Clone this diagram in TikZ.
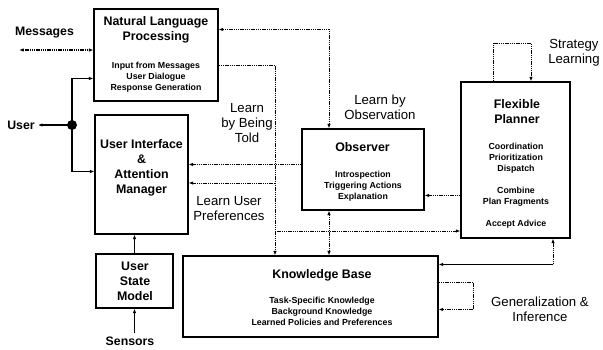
\documentclass[tikz,border=0pt]{standalone}
\usepackage{fontspec}
\setmainfont{Liberation Sans}
\usetikzlibrary{arrows.meta,calc}

\begin{document}
\begin{tikzpicture}[x=1pt,y=-1pt,
  box/.style={draw,line width=1.1pt,inner sep=0pt},
  title/.style={font=\fontsize{12.4}{15}\selectfont\bfseries,align=center,inner sep=0pt},
  body/.style={font=\fontsize{8.8}{11}\selectfont\bfseries,align=center,inner sep=0pt},
  tag/.style={font=\fontsize{12.3}{15}\selectfont\bfseries,inner sep=3pt},
  note/.style={font=\fontsize{13.2}{15}\selectfont,align=center,inner sep=0pt},
  tip/.tip={Latex[length=4.5pt,width=3.4pt]},
  dotline/.style={dash pattern=on 1.4pt off 0.8pt,line width=0.9pt},
  thickline/.style={line width=1.6pt},
  thinline/.style={line width=1pt}]
\useasboundingbox (0,0) rectangle (603,349);

% boxes
\node[box,minimum width=124pt,minimum height=92pt] (nlp) at (156,55) {};
\node[box,minimum width=93pt,minimum height=119pt] (ui) at (141.5,174.5) {};
\node[box,minimum width=77pt,minimum height=54pt] (usm) at (134.5,281) {};
\node[box,minimum width=255pt,minimum height=81pt] (kb) at (310.5,296.5) {};
\node[box,minimum width=122pt,minimum height=81pt] (obs) at (363,169.5) {};
\node[box,minimum width=109pt,minimum height=156pt] (plan) at (515.5,160) {};

% box contents
\node[title] (nlpt) at (156,29.5) {Natural Language\\Processing};
\node[body] (nlpb) at (156,77) {Input from Messages\\User Dialogue\\Response Generation};
\node[title] (uit) at (141.5,168) {User Interface\\\&\\Attention\\Manager};
\node[title] (usmt) at (135,281) {User\\State\\Model};
\node[title] (obst) at (362.5,147) {Observer};
\node[body] (obsb) at (363,186) {Introspection\\Triggering Actions\\Explanation};
\node[title] (plant) at (517,111.5) {Flexible\\Planner};
\node[body] (planb) at (516,185.5) {Coordination\\Prioritization\\Dispatch\\[11pt]Combine\\Plan Fragments\\[11pt]Accept Advice};
\node[title] (kbt) at (322,275) {Knowledge Base};
\node[body] (kbb) at (322,311) {Task-Specific Knowledge\\Background Knowledge\\Learned Policies and Preferences};

% outside labels
\node[tag] (msg) at (44.5,33) {Messages};
\node[tag] (user) at (21,125) {User};
\node[tag] (sens) at (130,341) {Sensors};
\node[note] (lobs) at (380,107.5) {Learn by\\Observation};
\node[note] (ltold) at (247,123) {Learn\\by Being\\Told};
\node[note] (lpref) at (229,208.5) {Learn User\\Preferences};
\node[note] (lgen) at (540,309.5) {Generalization \&\\Inference};
\node[note] (lstrat) at (574,53) {Strategy\\Learning};

% user connections
\coordinate (dot) at (72,125);
\draw[thickline,-tip] (dot) |- ([yshift=-70pt]nlp.north west);
\draw[thickline,-tip] (dot) |- ([yshift=-57pt]ui.north west);
\draw[thickline,-tip] (dot) -- (user.east);
\fill (dot) circle (5pt);

% messages
\coordinate (msgend) at (19,50);
\draw[dotline,line width=1.3pt,tip-tip] (msgend) -- (msgend -| nlp.west);

% user state model and sensors
\draw[thickline,-tip] (usm.north) -- (usm.north |- ui.south);
\draw[thinline,-tip] (usm.south |- sens.north) -- (usm.south);

% learning routes
\coordinate (xo) at (329,0);
\coordinate (xk) at (275,0);
\draw[dotline,tip-tip] ([yshift=-21pt]nlp.north east) -| (xo |- obs.north);
\draw[dotline,-tip] ([yshift=-57pt]nlp.north east) -| (xk |- kb.north);
\coordinate (o1) at ([yshift=-36pt]obs.north west);
\draw[dotline,-tip] (o1) -- (o1 -| ui.east);
\coordinate (j1) at (275,183);
\draw[dotline,-tip] (j1) -- (j1 -| ui.east);
\coordinate (j2) at (275,231);
\draw[dotline,-tip] (j2) -- (j2 -| plan.west);
\draw[dotline,tip-tip] (xo |- obs.south) -- (xo |- kb.north);
\coordinate (p1) at ([yshift=-114pt]plan.north west);
\draw[dotline,-tip] (p1) -- (p1 -| obs.east);

% knowledge base and planner
\coordinate (k1) at ([yshift=-9pt]kb.north east);
\coordinate (xp) at (553,0);
\draw[thickline,-tip] (xp |- k1) -- (k1);
\draw[dotline,-tip] (xp |- k1) -- (xp |- plan.south);

% generalization loop
\coordinate (k2) at ([yshift=-27pt]kb.north east);
\coordinate (k3) at ([yshift=-54pt]kb.north east);
\coordinate (xl) at (473,0);
\draw[dotline,-tip] (k2) -| (xl |- k3) -- (k3);

% strategy loop
\coordinate (sa) at (493,43);
\coordinate (sb) at (531,43);
\draw[dotline,-tip] (sa |- plan.north) -- (sa) -- (sb) -- (sb |- plan.north);
\end{tikzpicture}
\end{document}
